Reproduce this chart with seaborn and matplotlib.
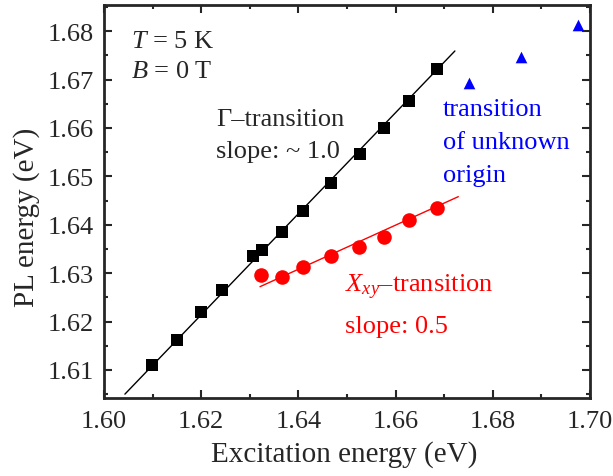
import matplotlib
matplotlib.use("Agg")
import matplotlib.pyplot as plt
import seaborn as sns
import numpy as np
import pandas as pd
from matplotlib.ticker import MultipleLocator

# ---- data ----
gamma_x = [1.6099, 1.6150, 1.6199, 1.6243, 1.6307, 1.6326, 1.6366, 1.6409,
           1.6467, 1.6527, 1.6576, 1.6627, 1.6686]
gamma_y = [1.6110, 1.6162, 1.6220, 1.6265, 1.6335, 1.6348, 1.6385, 1.6428,
           1.6487, 1.6546, 1.6599, 1.6655, 1.6722]
xy_x = [1.6324, 1.6366, 1.6409, 1.6468, 1.6525, 1.6577, 1.6628, 1.6686]
xy_y = [1.6297, 1.6292, 1.6312, 1.6336, 1.6353, 1.6374, 1.6410, 1.6434]
unk_x = [1.6750, 1.6858, 1.6976]
unk_y = [1.6693, 1.6747, 1.6812]
gamma_fit_x = [1.6043, 1.6722]
gamma_fit_y = [1.6050, 1.6759]
xy_fit_x = [1.6321, 1.6729]
xy_fit_y = [1.6272, 1.6458]
x_ticks = [1.60, 1.62, 1.64, 1.66, 1.68, 1.70]
y_ticks = [1.61, 1.62, 1.63, 1.64, 1.65, 1.66, 1.67, 1.68]

sns.set_style("ticks")
plt.rcParams['font.family'] = ['Liberation Serif', 'DejaVu Serif']
plt.rcParams['mathtext.fontset'] = 'custom'
plt.rcParams['mathtext.rm'] = 'Liberation Serif'
plt.rcParams['mathtext.it'] = 'Liberation Serif:italic'

fig = plt.figure(figsize=(6.13, 4.77), dpi=100)
ax = fig.add_axes([104/613, 1-399/477, 486/613, 393/477])

sns.lineplot(x=gamma_fit_x, y=gamma_fit_y, ax=ax, color='black', lw=1.0)
sns.lineplot(x=xy_fit_x, y=xy_fit_y, ax=ax, color='red', lw=1.0)
sns.scatterplot(x=gamma_x, y=gamma_y, ax=ax, marker='s', s=75, color='black',
                edgecolor='black', linewidth=0, zorder=3)
sns.scatterplot(x=xy_x, y=xy_y, ax=ax, marker='o', s=110, color='red',
                edgecolor='red', linewidth=0, zorder=3)
sns.scatterplot(x=unk_x, y=unk_y, ax=ax, marker='^', s=70, color='blue',
                edgecolor='blue', linewidth=0, zorder=3)

ax.set_xlim(1.60, 1.70)
ax.set_ylim(1.6042, 1.6854)
ax.set_xticks(x_ticks)
ax.set_xticklabels([f"{v:.2f}" for v in x_ticks])
ax.set_yticks(y_ticks)
ax.set_yticklabels([f"{v:.2f}" for v in y_ticks])
ax.xaxis.set_minor_locator(MultipleLocator(0.01))
ax.yaxis.set_minor_locator(MultipleLocator(0.005))
ax.tick_params(which='both', direction='in', top=True, right=True, width=1.5)
ax.tick_params(which='major', length=6, labelsize=19)
ax.tick_params(axis='x', which='major', pad=9)
ax.tick_params(axis='y', which='major', pad=7)
ax.tick_params(which='minor', length=3)
ax.tick_params(axis='x', which='both', labeltop=False)
ax.tick_params(axis='y', which='both', labelright=False)
for sp in ax.spines.values():
    sp.set_linewidth(2)
    sp.set_visible(True)

ax.set_xlabel("Excitation energy (eV)", fontsize=21)
ax.set_ylabel("PL energy (eV)", fontsize=21)
ax.xaxis.set_label_coords((344 - 104) / 486, -(455 - 399) / 393)
ax.yaxis.set_label_coords(-(104 - 27) / 486, (399 - 217) / 393)
ax.xaxis.label.set_va('center')
ax.yaxis.label.set_va('center')

fs = 19
ax.text(131/613, 1-42/477, "$T$ = 5 K", transform=fig.transFigure, fontsize=fs, va='center')
ax.text(131/613, 1-72/477, "$B$ = 0 T", transform=fig.transFigure, fontsize=fs, va='center')
ax.text(216/613, 1-120/477, "Γ–transition", transform=fig.transFigure, fontsize=fs, va='center')
ax.text(216/613, 1-152/477, "slope: ~ 1.0", transform=fig.transFigure, fontsize=fs, va='center')
ax.text(443/613, 1-110/477, "transition", transform=fig.transFigure, fontsize=fs, va='center', color='blue')
ax.text(443/613, 1-143/477, "of unknown", transform=fig.transFigure, fontsize=fs, va='center', color='blue')
ax.text(443/613, 1-176/477, "origin", transform=fig.transFigure, fontsize=fs, va='center', color='blue')
ax.text(345/613, 1-287/477, "$X_{xy}$–transition", transform=fig.transFigure, fontsize=fs, va='center', color='red')
ax.text(345/613, 1-327/477, "slope: 0.5", transform=fig.transFigure, fontsize=fs, va='center', color='red')

fig.savefig("out.png", dpi=100)
